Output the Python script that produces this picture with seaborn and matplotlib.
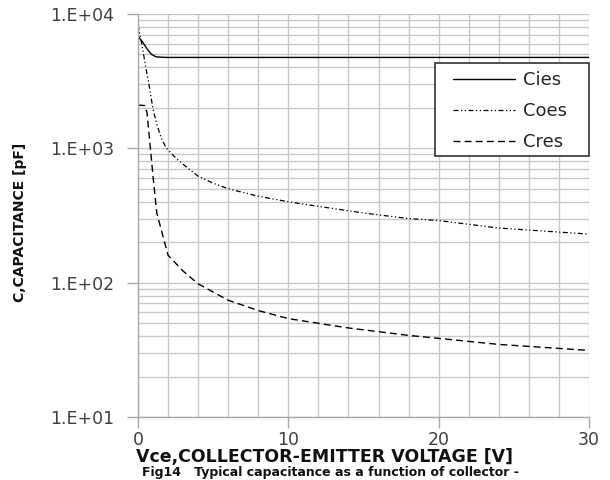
import matplotlib
matplotlib.use("Agg")
import matplotlib.pyplot as plt
import seaborn as sns
import numpy as np
import pandas as pd
from matplotlib.ticker import FixedLocator, NullFormatter, FixedFormatter
from matplotlib.patches import Rectangle

# ---- data ----
cies_v = [0, 0.3, 0.6, 0.9, 1.2, 1.6, 2, 5, 10, 15, 20, 25, 30]
cies_c = [6800, 6200, 5500, 5000, 4800, 4760, 4750, 4750, 4750, 4750, 4750, 4750, 4750]

coes_v = [0, 0.25, 0.5, 0.75, 1.0, 1.3, 1.6, 1.9, 2.5, 3, 4, 5, 6, 8, 10, 12, 15, 18, 20, 24, 28, 30]
coes_c = [8300, 6000, 4100, 2900, 1950, 1450, 1150, 1000, 850, 760, 620, 550, 500, 440, 400, 370, 330, 300, 290, 255, 238, 230]

cres_v = [0, 0.45, 0.6, 0.8, 1.0, 1.25, 1.7, 2, 3, 4, 6, 8, 10, 14, 18, 20, 24, 28, 30]
cres_c = [2100, 2080, 1850, 1070, 620, 330, 213, 160, 122, 98, 74, 62, 54, 46, 40.5, 38.5, 34.7, 32.4, 31.3]

series_names = ["Cies", "Coes", "Cres"]
x_ticks = [0, 10, 20, 30]
y_ticks = [10, 100, 1000, 10000]
y_tick_labels = ["1.E+01", "1.E+02", "1.E+03", "1.E+04"]

x_label = "Vce,COLLECTOR-EMITTER VOLTAGE [V]"
y_label = "C,CAPACITANCE [pF]"
caption = "Fig14   Typical capacitance as a function of collector -"

# ---- figure ----
sns.set_theme(style="white")
plt.rcParams["font.family"] = ["DejaVu Sans"]

W, H = 610, 480
fig = plt.figure(figsize=(W/100, H/100), dpi=100)
L, R, T, B = 138, 589, 14, 417
ax = fig.add_axes([L/W, 1-B/H, (R-L)/W, (B-T)/H])

def ax_x(px):
    return (px - L) / (R - L)

def ax_y(py):
    return 1 - (py - T) / (B - T)

df = pd.concat([
    pd.DataFrame({"V": cies_v, "C": cies_c, "s": "Cies"}),
    pd.DataFrame({"V": coes_v, "C": coes_c, "s": "Coes"}),
    pd.DataFrame({"V": cres_v, "C": cres_c, "s": "Cres"}),
])
styles = {
    "Cies": dict(linestyle="-", lw=1.0),
    "Coes": dict(linestyle=(0, (4, 2, 1, 2, 1, 2)), lw=0.9),
    "Cres": dict(linestyle=(0, (5, 3)), lw=1.0),
}
for name in series_names:
    sub = df[df["s"] == name]
    sns.lineplot(data=sub, x="V", y="C", ax=ax, color="black", label=name,
                 estimator=None, sort=False, **styles[name])

ax.set_yscale("log")
ax.set_xlim(0, 30)
ax.set_ylim(10, 10000)

# grid
ax.xaxis.set_major_locator(FixedLocator(x_ticks))
ax.xaxis.set_minor_locator(FixedLocator(np.arange(0, 31, 2)))
ax.yaxis.set_major_locator(FixedLocator(y_ticks))
ax.yaxis.set_major_formatter(FixedFormatter(y_tick_labels))
ax.yaxis.set_minor_locator(FixedLocator([m * 10**e for e in range(1, 4) for m in range(2, 10)]))
ax.yaxis.set_minor_formatter(NullFormatter())
ax.grid(True, which="both", color="#c8c8c8", lw=1.0)
ax.set_axisbelow(True)

for sp in ["top", "right"]:
    ax.spines[sp].set_visible(False)
for sp in ["left", "bottom"]:
    ax.spines[sp].set_color("#a8a8a8")
    ax.spines[sp].set_linewidth(1.0)

ax.tick_params(axis="both", which="major", direction="out", length=8, width=1,
               color="#a8a8a8", labelcolor="#404040", labelsize=12.5)
ax.tick_params(axis="y", which="major", pad=9, left=True)
ax.tick_params(axis="x", which="major", pad=2, bottom=True)
ax.tick_params(which="minor", length=0)

ax.set_xlabel("")
ax.set_ylabel("")

fig.text(325/W, 1-457/H, x_label, ha="center", va="center",
         fontsize=12.5, fontweight="bold", color="#111111")
fig.text(20/W, 1-222/H, y_label, ha="center", va="center", rotation=90,
         fontsize=10, fontweight="bold", color="#111111",
         family=["Liberation Sans Narrow", "DejaVu Sans"])
fig.text(330/W, 1.0/H, caption, ha="center", va="bottom",
         fontsize=9, fontweight="bold", color="#111111")

# legend: frame drawn as a patch, entries placed inside it
frame = Rectangle((ax_x(435), ax_y(156)), ax_x(589) - ax_x(435), ax_y(63) - ax_y(156),
                  transform=ax.transAxes, facecolor="white", edgecolor="#333333",
                  lw=1.2, zorder=4, clip_on=False)
ax.add_patch(frame)
leg = ax.legend(loc="upper left", bbox_to_anchor=(ax_x(453), ax_y(71)), borderaxespad=0,
                borderpad=0, frameon=False, fontsize=13,
                handlelength=3.45, handletextpad=0.45, labelspacing=0.72)
leg.set_zorder(5)

fig.savefig("out.png", dpi=100)
